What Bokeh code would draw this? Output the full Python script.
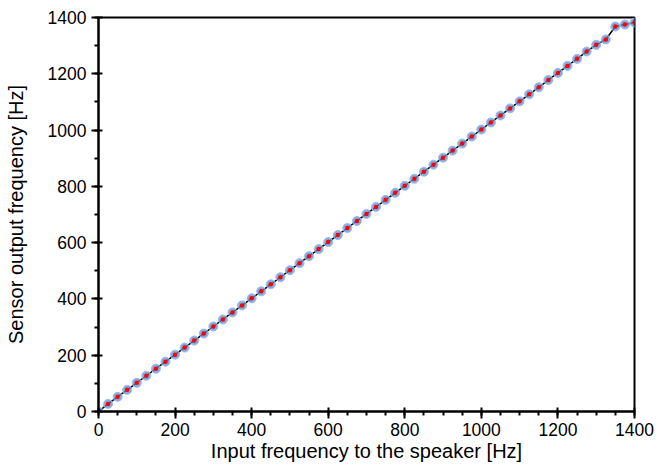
from bokeh.plotting import figure
from bokeh.embed import file_html
from bokeh.resources import INLINE
from bokeh.models import FixedTicker, Range1d

input_hz = [0, 25, 50, 75, 100, 125, 150, 175, 200, 225, 250, 275, 300, 325, 350, 375,
            400, 425, 450, 475, 500, 525, 550, 575, 600, 625, 650, 675, 700, 725, 750, 775,
            800, 825, 850, 875, 900, 925, 950, 975, 1000, 1025, 1050, 1075, 1100, 1125, 1150,
            1175, 1200, 1225, 1250, 1275, 1300, 1325, 1350, 1375, 1400]
output_hz = [0, 27, 52, 77, 102, 127, 152, 177, 202, 227, 252, 277, 302, 327, 352, 377,
             402, 427, 452, 477, 502, 527, 552, 577, 602, 627, 652, 677, 702, 727, 752, 777,
             802, 827, 852, 877, 902, 927, 952, 977, 1002, 1027, 1052, 1077, 1102, 1127, 1152,
             1178, 1203, 1228, 1253, 1279, 1303, 1322, 1368, 1375, 1382]

x_ticks = [0, 200, 400, 600, 800, 1000, 1200, 1400]
y_ticks = [0, 200, 400, 600, 800, 1000, 1200, 1400]

p = figure(width=662, height=467, output_backend="svg", toolbar_location=None,
           x_range=Range1d(0, 1400), y_range=Range1d(0, 1400))
p.min_border_left = 98
p.min_border_right = 28
p.min_border_top = 17
p.min_border_bottom = 56
p.background_fill_color = "white"
p.border_fill_color = "white"
p.outline_line_color = "black"
p.outline_line_width = 2
p.grid.visible = False

p.line(input_hz, output_hz, line_color="black", line_width=1.5)
p.scatter(input_hz, output_hz, size=9, fill_color="#5b8fd6", line_color="#9dbce6",
          line_width=1, fill_alpha=0.75)
p.scatter(input_hz, output_hz, size=4.5, fill_color="red", line_color=None)

font = "Liberation Sans"
p.xaxis.ticker = FixedTicker(ticks=x_ticks, minor_ticks=list(range(0, 1401, 50)))
p.yaxis.ticker = FixedTicker(ticks=y_ticks, minor_ticks=list(range(0, 1401, 100)))
p.xaxis.axis_label = "Input frequency to the speaker [Hz]"
p.yaxis.axis_label = "Sensor output frequency [Hz]"
for ax in (p.xaxis, p.yaxis):
    ax.axis_line_color = "black"
    ax.axis_line_width = 2
    ax.major_tick_line_color = "black"
    ax.major_tick_line_width = 2
    ax.minor_tick_line_color = "black"
    ax.minor_tick_line_width = 2
    ax.major_tick_out = 7
    ax.major_tick_in = 4
    ax.minor_tick_out = 4
    ax.minor_tick_in = 0
    ax.major_label_text_font = font
    ax.major_label_text_font_size = "17.5px"
    ax.major_label_text_color = "black"
    ax.axis_label_text_font = font
    ax.axis_label_text_font_size = "20px"
    ax.axis_label_text_font_style = "normal"
    ax.axis_label_text_color = "black"
p.xaxis.major_label_standoff = 4
p.yaxis.major_label_standoff = 5
p.xaxis.axis_label_standoff = 1
p.yaxis.axis_label_standoff = 18

open("out.html", "w").write(file_html(p, INLINE))
